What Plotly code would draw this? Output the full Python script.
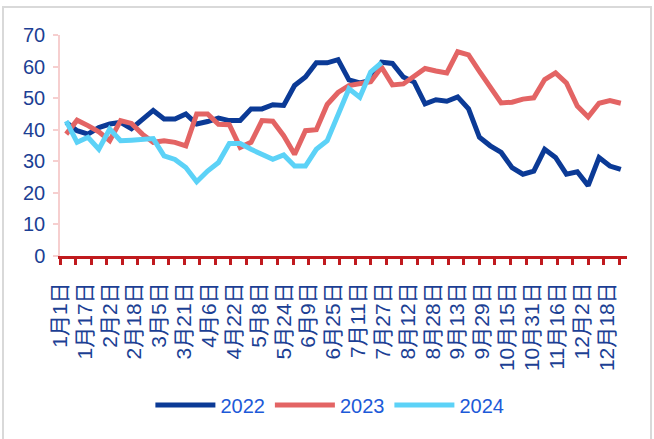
import pandas as pd
import plotly.graph_objects as go

# weekly observation dates (plotted on a common leap-year calendar)
week_dates = pd.date_range("2024-01-05", periods=52, freq="7D")

y2022 = [42.3, 39.7, 38.6, 40.7, 41.8, 42.3, 40.3, 43.0, 46.1, 43.4, 43.4, 45.0, 41.8,
         42.6, 43.7, 42.9, 42.9, 46.6, 46.6, 47.9, 47.7, 54.0, 56.7, 61.2, 61.2, 62.2,
         55.8, 54.8, 55.6, 61.4, 61.0, 56.7, 55.1, 48.2, 49.5, 49.0, 50.4, 46.6, 37.6,
         34.9, 32.8, 28.0, 25.9, 26.9, 33.8, 31.2, 25.9, 26.7, 22.3, 31.2, 28.5, 27.4]
y2023 = [38.6, 43.0, 41.3, 39.3, 36.5, 42.9, 42.0, 38.6, 36.0, 36.5, 36.0, 34.9, 45.0,
         45.0, 41.7, 41.6, 34.4, 36.0, 42.9, 42.7, 38.1, 32.2, 39.7, 40.0, 48.0, 51.8,
         54.0, 54.6, 55.2, 59.8, 54.2, 54.5, 57.0, 59.4, 58.6, 58.0, 64.7, 63.7, 58.5,
         53.4, 48.5, 48.7, 49.7, 50.1, 55.9, 58.0, 54.8, 47.5, 44.0, 48.4, 49.2, 48.4]
y2024 = [42.7, 36.0, 37.6, 33.8, 40.2, 36.5, 36.7, 37.0, 37.2, 31.7, 30.6, 28.0, 23.5,
         26.9, 29.6, 35.6, 35.6, 33.8, 32.4, 30.6, 32.0, 28.5, 28.5, 33.8, 36.5, 44.5,
         53.0, 50.3, 58.3, 61.2]

tick_labels = ["1月1日", "1月17日", "2月2日", "2月18日", "3月5日", "3月21日", "4月6日",
               "4月22日", "5月8日", "5月24日", "6月9日", "6月25日", "7月11日", "7月27日",
               "8月12日", "8月28日", "9月13日", "9月29日", "10月15日", "10月31日",
               "11月16日", "12月2日", "12月18日"]
tick_dates = pd.date_range("2024-01-01", periods=len(tick_labels), freq="16D")

series = [("2022", y2022, "#0B3A96"), ("2023", y2023, "#E36464"), ("2024", y2024, "#5CD2F7")]

FONT = "Arial, 'Liberation Sans', 'Noto Sans CJK SC', sans-serif"
NAVY = "#1C3F94"

fig = go.Figure()
for name, ys, col in series:
    fig.add_trace(go.Scatter(x=week_dates[:len(ys)], y=ys, name=name, mode="lines",
                             line=dict(color=col, width=5)))

fig.update_layout(
    width=654, height=439,
    margin=dict(l=60, r=27, t=35, b=183),
    paper_bgcolor="white", plot_bgcolor="white",
    font=dict(family=FONT, color=NAVY),
    showlegend=True,
    legend=dict(orientation="h", x=0.476, y=-0.674, xanchor="center", yanchor="middle",
                font=dict(size=20, color="#1D5AD8", family=FONT),
                itemwidth=60, bgcolor="rgba(0,0,0,0)"),
)
fig.update_xaxes(
    type="date", range=["2024-01-01", "2024-12-31"],
    tickmode="array", tickvals=tick_dates, ticktext=tick_labels,
    tickangle=-90, tickfont=dict(size=21, color=NAVY, family=FONT),
    ticks="", ticklabelstandoff=15,
    minor=dict(ticks="outside", tickmode="linear", tick0="2024-01-01",
               dtick=10 * 86400000, ticklen=6, tickwidth=3, tickcolor="#C01A1E",
               showgrid=False),
    showline=True, linecolor="#C01A1E", linewidth=3,
    showgrid=False, zeroline=False,
)
fig.update_yaxes(
    range=[0, 70], dtick=10, tick0=0,
    tickfont=dict(size=20, color=NAVY, family=FONT),
    ticks="outside", ticklen=5, tickcolor="#F6CFCF", tickwidth=1.5,
    showline=True, linecolor="#F6CFCF", linewidth=1.5,
    showgrid=False, zeroline=False, ticklabelstandoff=4,
)
# thin frame around the chart
fig.add_shape(type="rect", xref="paper", yref="paper",
              x0=-0.1005, x1=1.0423, y0=-0.85, y1=1.1267,
              line=dict(color="#D9D9D9", width=2), fillcolor="rgba(0,0,0,0)", layer="below")

fig.write_html("out.html")
